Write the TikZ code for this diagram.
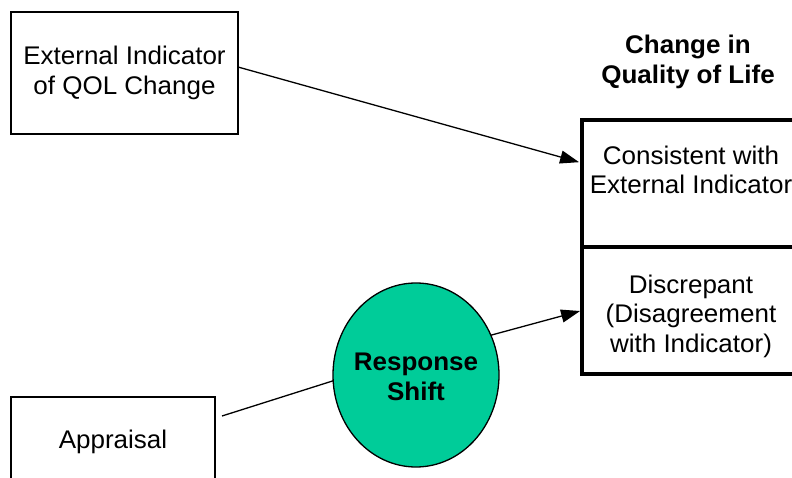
\documentclass[tikz,border=0pt]{standalone}
\usepackage{fontspec}
\setmainfont{Liberation Sans}[FakeStretch=1.02]
\usetikzlibrary{arrows.meta,calc,shapes.geometric}
\definecolor{rsgreen}{RGB}{0,204,153}
\begin{document}
\begin{tikzpicture}[x=1pt,y=-1pt,
  txt/.style={font=\fontsize{25.5}{29.5}\selectfont, align=center, inner sep=0pt},
  boldtxt/.style={font=\bfseries\fontsize{25.5}{30}\selectfont, align=center, inner sep=0pt},
  thinbox/.style={draw=black, line width=1.3pt, fill=white, inner sep=0pt, outer sep=0pt},
  cell/.style={draw=black, line width=4pt, inner sep=0pt, outer sep=0pt,
    minimum width=218pt, minimum height=127pt, anchor=north west},
  conn/.style={line width=1.3pt},
  arr/.style={conn, -{Triangle[length=19pt,width=13pt]}}
]
\useasboundingbox (0,0) rectangle (792,478);
\clip (0,0) rectangle (792,478);
% boxes
\node[thinbox, txt, minimum width=227pt, minimum height=122pt] (ext) at (124.5,73) {External Indicator\\of QOL Change};
\node[thinbox, txt, minimum width=204pt, minimum height=90pt, anchor=north west] (appr) at (11,397) {Appraisal};
\node[boldtxt] (title) at (688,62) {Change in\\Quality of Life};
\node[cell] (cons) at (582,120) {};
\node[cell] (disc) at (582,247) {};
\node[txt] (constxt) at (691,170) {Consistent with\\External Indicator};
\node[txt] (disctxt) at (691,316) {Discrepant\\(Disagreement\\with Indicator)};
\node[ellipse, draw=black, fill=rsgreen, line width=1.3pt, minimum width=166pt, minimum height=184pt,
  inner sep=0pt, outer sep=0pt] (rs) at (416,375) {};
\node[boldtxt] (rstxt) at (416,377) {Response\\Shift};
% connectors
\draw[arr, shorten >=3pt] ([yshift=6pt]ext.east) -- ([yshift=20.5pt]cons.west);
\draw[conn] ($(appr.north east)+(7,19)$) -- (rs.184);
\draw[arr, shorten >=2pt] (rs.28) -- (disc.west);
\end{tikzpicture}
\end{document}
